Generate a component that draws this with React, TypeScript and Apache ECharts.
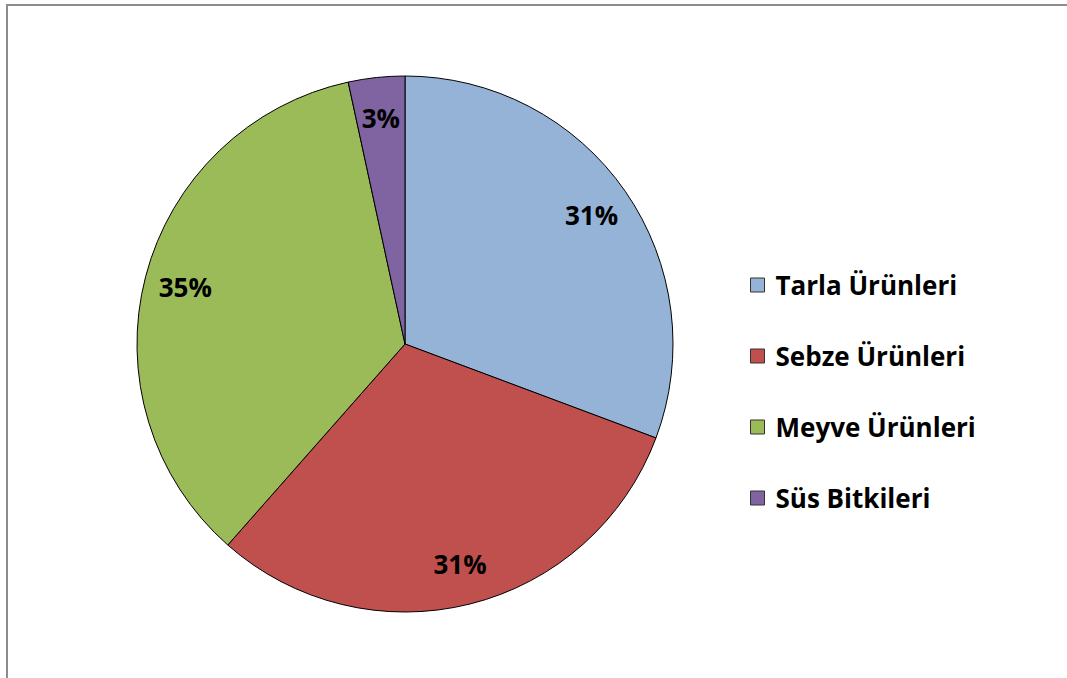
import React, { useEffect, useRef } from "react";
import * as echarts from "echarts";

const categories = ["Tarla Ürünleri", "Sebze Ürünleri", "Meyve Ürünleri", "Süs Bitkileri"];
const values = [30.7, 30.8, 35.1, 3.4];
const colors = ["#95B3D7", "#C0504D", "#9BBB59", "#8064A2"];

export default function App() {
  const ref = useRef<HTMLDivElement>(null);
  useEffect(() => {
    document.body.style.margin = "0";
    const chart = echarts.init(ref.current!, null, { renderer: "svg" });
    const data = categories.map((name, i) => ({ name, value: values[i], itemStyle: { color: colors[i] } }));
    const font = "Open Sans";
    chart.setOption({
      animation: false,
      backgroundColor: "#fff",
      graphic: [
        {
          type: "rect",
          shape: { x: 7, y: 5, width: 1100, height: 720 },
          style: { fill: "none", stroke: "#8c8c8c", lineWidth: 2 },
          silent: true,
        },
      ],
      legend: {
        orient: "vertical",
        left: 750,
        top: 271,
        padding: 0,
        itemWidth: 14,
        itemHeight: 14,
        itemGap: 43,
        icon: "rect",
        itemStyle: { borderColor: "#333", borderWidth: 1 },
        textStyle: {
          fontFamily: font,
          fontWeight: "bold",
          fontSize: 26,
          color: "#000",
          lineHeight: 28,
          padding: [0, 0, 0, 6],
        },
        data: categories,
      },
      series: [
        {
          type: "pie",
          center: [405, 344],
          radius: [0, 268],
          startAngle: 90,
          clockwise: true,
          percentPrecision: 0,
          label: { show: false },
          labelLine: { show: false },
          itemStyle: { borderColor: "#000", borderWidth: 1 },
          emphasis: { disabled: true },
          data,
        },
        {
          type: "pie",
          center: [405, 344],
          radius: [180, 268],
          startAngle: 90,
          clockwise: true,
          percentPrecision: 0,
          silent: true,
          legendHoverLink: false,
          label: {
            show: true,
            position: "inside",
            formatter: "{d}%",
            fontFamily: font,
            fontWeight: "bold",
            fontSize: 26,
            color: "#000",
          },
          labelLine: { show: false },
          itemStyle: { color: "rgba(0,0,0,0)", borderWidth: 0 },
          emphasis: { disabled: true },
          data: categories.map((name, i) => ({ name, value: values[i] })),
        },
      ],
    });
    return () => chart.dispose();
  }, []);
  return <div ref={ref} style={{ width: 1067, height: 678 }} />;
}
